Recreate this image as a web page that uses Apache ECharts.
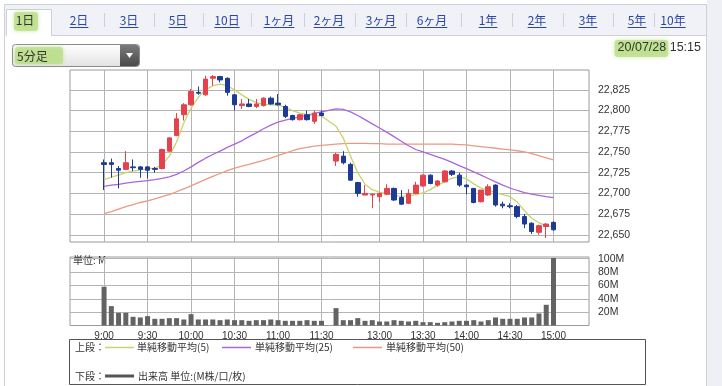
<!DOCTYPE html>
<html><head><meta charset="utf-8">
<script src="https://cdn.jsdelivr.net/npm/echarts@6/dist/echarts.min.js"></script>
<style>html,body{margin:0;padding:0;background:#fff;}#c{width:722px;height:386px;}</style>
</head><body><div id="c"></div>
<script>
const times = ['9:00','9:05','9:10','9:15','9:20','9:25','9:30','9:35','9:40','9:45','9:50','9:55','10:00','10:05','10:10','10:15','10:20','10:25','10:30','10:35','10:40','10:45','10:50','10:55','11:00','11:05','11:10','11:15','11:20','11:25','11:30', null, '12:30','12:35','12:40','12:45','12:50','12:55','13:00','13:05','13:10','13:15','13:20','13:25','13:30','13:35','13:40','13:45','13:50','13:55','14:00','14:05','14:10','14:15','14:20','14:25','14:30','14:35','14:40','14:45','14:50','14:55','15:00'];
const tickLabels = ['9:00','9:30','10:00','10:30','11:00','11:30','13:00','13:30','14:00','14:30','15:00'];
const priceTicks = [22650,22675,22700,22725,22750,22775,22800,22825];
const volTicks = [20,40,60,80,100];

const open = [22737,22737,22730,22729,22732,22732,22732,22730,22730,22751, 22770,22795,22807,22822,22819,22839,22841,22839,22819,22806, 22808,22805,22806,22815,22809,22805,22794,22789,22795,22787, 22797,null,22739,22745,22735,22713,22698,22698,22696,22699, 22706,22695,22688,22700,22709,22722,22710,22714,22727,22722, 22710,22706,22690,22698,22710,22687,22685,22684,22672,22664, 22653,22660,22665];
const close = [22735,22735,22728,22737,22731,22729,22728,22729,22753,22767, 22790,22807,22823,22821,22838,22841,22837,22822,22807,22808, 22805,22808,22815,22808,22807,22793,22789,22795,22789,22797, 22794,null,22747,22737,22716,22700,22700,22699,22700,22706, 22692,22687,22700,22710,22722,22712,22715,22727,22723,22710, 22708,22689,22704,22708,22686,22685,22684,22672,22663,22654, 22661,22663,22656];
const low = [22704,22719,22706,22728,22727,22719,22718,22725,22729,22750, 22769,22788,22806,22819,22818,22830,22834,22818,22800,22802, 22804,22803,22805,22807,22806,22791,22788,22788,22788,22784, 22793,null,22733,22735,22715,22696,22698,22682,22690,22698, 22691,22686,22687,22699,22708,22711,22708,22713,22721,22708, 22699,22688,22689,22697,22684,22682,22682,22670,22658,22651, 22650,22646,22655];
const high = [22741,22742,22733,22751,22741,22733,22733,22732,22754,22768, 22797,22809,22826,22829,22842,22843,22842,22840,22820,22814, 22814,22814,22816,22817,22820,22807,22795,22796,22800,22800, 22800,null,22749,22751,22737,22714,22710,22700,22701,22711, 22707,22704,22705,22714,22723,22723,22716,22728,22728,22725, 22711,22706,22704,22711,22711,22690,22688,22686,22675,22665, 22662,22664,22666];
const volume = [58,29,19,19,13,12,14,10,10,11, 11,9,17,9,9,9,8,9,8,8, 7,8,8,9,8,7,7,7,8,7, 7,null,26,8,8,11,7,8,6,6, 8,7,6,7,5,5,4,5,6,7, 7,8,6,8,12,10,10,10,12,12, 18,31,101];
const ma5 = [22716.5,22719.5,22722,22725,22727,22728.5,22729.5,22730.5,22734,22745, 22762,22785,22803,22816,22825,22830,22832,22830,22825,22819, 22813.5,22809.5,22807.5,22807,22807,22804,22800,22797,22795,22794, 22793.5,null,22781,22767,22745,22725,22711,22704.5,22701.5,22699.5, 22698,22696.5,22697,22698.5,22700.5,22704.5,22710,22714,22718.5,22720, 22717.5,22711.5,22706.5,22704,22701,22698.5,22696,22689.5,22679,22670, 22664.5,22661,22659.5];
const ma25 = [22708.5,22710,22711,22712.5,22713.5,22714.5,22715.5,22716.5,22718,22720, 22723,22727,22732,22737.5,22742.5,22747,22751,22755.5,22759.5,22763.5, 22768.5,22773,22778,22782.5,22786,22788.5,22790.5,22792.5,22794.5,22796.5, 22798.5,null,22802,22801.5,22798.5,22794,22789,22784,22779,22774, 22768.5,22763,22757.5,22753,22750,22747,22744,22741,22737.5,22733.5, 22730,22726,22722,22718,22714,22710,22706.5,22703.5,22701,22699, 22697.5,22696,22695];
const ma50 = [22675.5,22678,22681,22684,22686.5,22689,22691,22693.5,22696,22698.5, 22702,22705.5,22709,22713,22717,22720.5,22724,22727.5,22730.5,22733, 22735,22737.5,22740,22742.5,22745.5,22748.5,22751.5,22754,22755.5,22757, 22758,null,22759.5,22760,22760.5,22760.5,22760.5,22760,22760,22759.5, 22759.5,22759.5,22759.5,22759.5,22759.5,22759.5,22759.5,22759.5,22759.5,22759, 22758.5,22757.5,22756.5,22755.5,22754.5,22753.5,22752.5,22751.5,22750,22748, 22745.5,22743,22740.5];

const tabs = ['1日','2日','3日','5日','10日','1ヶ月','2ヶ月','3ヶ月','6ヶ月','1年','2年','3年','5年','10年'];
const tabX = [25,79,129,178,227,279,329,381,432,488,537,588,637,673];
const sepX = [104,154,203,251,304,355,406,461,512,563,613,654];

const tickSlots = tickLabels.map(t => times.indexOf(t));
const candleData = [], volData = [], ma5Data = [], ma25Data = [], ma50Data = [];
times.forEach((t, i) => {
  if (t === null) return;
  candleData.push([i, open[i], close[i], low[i], high[i]]);
  volData.push([i, volume[i]]);
  ma5Data.push([i, ma5[i]]);
  ma25Data.push([i, ma25[i]]);
  ma50Data.push([i, ma50[i]]);
});

const cv = document.createElement('canvas').getContext('2d');
function tw(txt, font) { cv.font = font; return cv.measureText(txt).width; }

const CJK = '"Noto Sans CJK JP"';
const LAT = '"Liberation Sans", Arial';
const GRID = '#b4b4b4';
const g = [];
g.push({type:'rect', shape:{x:707,y:0,width:15,height:386}, style:{fill:'#eef0f5'}});
g.push({type:'polyline', shape:{points:[[4.5,396],[4.5,4.5],[706.5,4.5],[706.5,396]]}, style:{fill:null, stroke:'#cfcfd6', lineWidth:1}});
g.push({type:'rect', shape:{x:5,y:5,width:701,height:30}, style:{fill:'#f1f2f7'}});
g.push({type:'line', shape:{x1:52,y1:35.5,x2:706,y2:35.5}, style:{stroke:'#cfcfd6', lineWidth:1}});
g.push({type:'rect', shape:{x:6.5,y:9.5,width:45,height:27}, style:{fill:'#fff'}});
g.push({type:'polyline', shape:{points:[[6.5,36],[6.5,9.5],[51.5,9.5],[51.5,36]]}, style:{fill:null, stroke:'#cfcfd6', lineWidth:1}});
g.push({type:'rect', shape:{x:14,y:12,width:24,height:19,r:3}, style:{fill:'rgba(185,222,135,0.75)', shadowBlur:4, shadowColor:'rgba(185,222,135,0.9)'}});
const tabFont = '12px ' + CJK;
tabs.forEach((t, k) => {
  const w = tw(t, tabFont);
  g.push({type:'text', x:tabX[k], y:20, style:{text:t, font:tabFont, fill: k === 0 ? '#333' : '#2a46a8', textAlign:'center', textVerticalAlign:'middle'}});
  if (k > 0) g.push({type:'line', shape:{x1:tabX[k]-w/2, y1:27.5, x2:tabX[k]+w/2, y2:27.5}, style:{stroke:'#2a46a8', lineWidth:1}});
});
sepX.forEach(x => g.push({type:'line', shape:{x1:x+0.5,y1:13,x2:x+0.5,y2:27}, style:{stroke:'#cdd0d8', lineWidth:1}}));
g.push({type:'rect', shape:{x:12.5,y:44.5,width:127,height:22,r:3}, style:{fill:new echarts.graphic.LinearGradient(0,0,0,1,[{offset:0,color:'#ffffff'},{offset:1,color:'#e2e2e2'}]), stroke:'#8a8a8a', lineWidth:1}});
g.push({type:'rect', shape:{x:120,y:45,width:19,height:21,r:[0,3,3,0]}, style:{fill:new echarts.graphic.LinearGradient(0,0,0,1,[{offset:0,color:'#7a7a7a'},{offset:1,color:'#4a4a4a'}])}});
g.push({type:'polygon', shape:{points:[[126,53],[133,53],[129.5,58]]}, style:{fill:'#fff'}});
g.push({type:'rect', shape:{x:15,y:47,width:48,height:17,r:3}, style:{fill:'rgba(185,222,135,0.75)', shadowBlur:4, shadowColor:'rgba(185,222,135,0.9)'}});
g.push({type:'text', x:17, y:56, style:{text:'5分足', font:'12px '+CJK, fill:'#333', textVerticalAlign:'middle'}});
const dFont = '12.5px ' + LAT;
const dW = tw('20/07/28', dFont), sW = tw(' 15:15', dFont);
const dX = 701 - dW - sW;
g.push({type:'rect', shape:{x:dX-3,y:40,width:dW+5,height:17,r:3}, style:{fill:'rgba(185,222,135,0.75)', shadowBlur:4, shadowColor:'rgba(185,222,135,0.9)'}});
g.push({type:'text', x:dX, y:48, style:{text:'20/07/28 15:15', font:dFont, fill:'#333', textVerticalAlign:'middle'}});
g.push({type:'text', x:73, y:260, style:{text:'単位: M', font:'10px '+CJK, fill:'#333', textVerticalAlign:'middle'}});
g.push({type:'rect', shape:{x:69.5,y:339.5,width:576,height:45}, style:{fill:'#fff', stroke:'#555', lineWidth:1}});
const lf = '10px ' + CJK;
g.push({type:'text', x:75, y:347, style:{text:'上段：', font:lf, fill:'#333', textVerticalAlign:'middle'}});
[['単純移動平均(5)','#c5d56c',105,137],['単純移動平均(25)','#a966dc',222,255],['単純移動平均(50)','#ea9a82',353,386]].forEach(e => {
  g.push({type:'line', shape:{x1:e[2],y1:347.5,x2:e[2]+29,y2:347.5}, style:{stroke:e[1], lineWidth:1.5}});
  g.push({type:'text', x:e[3], y:347, style:{text:e[0], font:lf, fill:'#333', textVerticalAlign:'middle'}});
});
g.push({type:'text', x:75, y:376, style:{text:'下段：', font:lf, fill:'#333', textVerticalAlign:'middle'}});
g.push({type:'line', shape:{x1:105,y1:376,x2:134,y2:376}, style:{stroke:'#555', lineWidth:3}});
g.push({type:'text', x:138, y:376, style:{text:'出来高 単位:(M株/口/枚)', font:lf, fill:'#333', textVerticalAlign:'middle'}});

function xAxisOf(gi, showLabel) {
  return {type:'value', gridIndex:gi, min:-4.7, max:66.9, axisLine:{show:false},
    axisTick:{show:false, customValues:tickSlots},
    axisLabel:{show:showLabel, customValues:tickSlots, margin:6, fontSize:10, color:'#333', fontFamily:LAT,
      formatter:v => times[Math.round(v)] || ''},
    splitLine:{show:true, lineStyle:{color:GRID, width:1}}};
}
function yAxisOf(gi, min, max, ticks, fmt) {
  return {type:'value', gridIndex:gi, position:'right', min:min, max:max,
    axisTick:{show:true, length:4, customValues:ticks, lineStyle:{color:GRID}},
    axisLabel:{customValues:ticks, margin:9, fontSize:10.5, color:'#333', fontFamily:LAT, formatter:fmt},
    axisLine:{show:false},
    splitLine:{show:true, lineStyle:{color:GRID, width:1}}};
}
const chart = echarts.init(document.getElementById('c'));
chart.setOption({
  animation:false,
  graphic:{elements:g},
  grid:[{left:70, top:70, width:519, height:172, show:true, borderColor:'#9a9a9a', borderWidth:1},
        {left:70, top:257, width:519, height:68.5, show:true, borderColor:'#9a9a9a', borderWidth:1}],
  xAxis:[xAxisOf(0, false), xAxisOf(1, true)],
  yAxis:[yAxisOf(0, 22641.3, 22849, priceTicks, v => v.toLocaleString('en-US')),
         yAxisOf(1, 0, 102.5, volTicks, v => v + 'M')],
  series:[
    {type:'line', xAxisIndex:0, yAxisIndex:0, data:ma50Data, showSymbol:false, lineStyle:{color:'#ea9a82', width:1.3}, z:2},
    {type:'line', xAxisIndex:0, yAxisIndex:0, data:ma25Data, showSymbol:false, lineStyle:{color:'#a966dc', width:1.3}, z:2},
    {type:'line', xAxisIndex:0, yAxisIndex:0, data:ma5Data, showSymbol:false, lineStyle:{color:'#c5d56c', width:1.3}, z:2},
    {type:'candlestick', xAxisIndex:0, yAxisIndex:0, data:candleData, barWidth:5, encode:{x:0, y:[1,2,3,4]},
      itemStyle:{color:'#e5424d', color0:'#1d3b94', borderColor:'#e5424d', borderColor0:'#1d3b94', borderWidth:1}, z:3},
    {type:'bar', xAxisIndex:1, yAxisIndex:1, data:volData, barWidth:5, itemStyle:{color:'#636363'}, z:3}
  ]
});
</script></body></html>
